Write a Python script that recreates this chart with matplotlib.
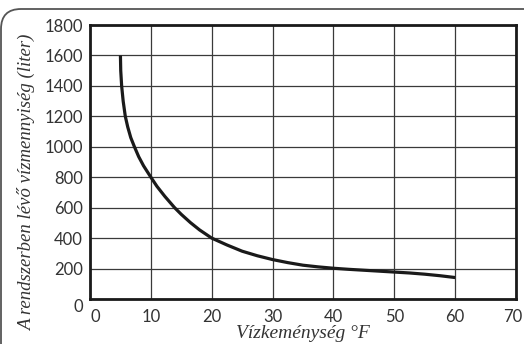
import matplotlib
matplotlib.use('Agg')
import matplotlib.pyplot as plt
from matplotlib.patches import FancyBboxPatch
from matplotlib.transforms import ScaledTranslation

# Water hardness (°F) vs. system water volume (liter)
hardness = [5.0, 5.05, 5.2, 5.45, 5.8, 6.2, 6.7, 7.3, 8.0, 8.8, 10, 11, 12.3, 13.9, 15,
            16.5, 18, 20, 22.5, 25, 27.5, 30, 32.5, 35, 37.5, 40, 42.5, 45, 47.5, 50, 52.5, 55, 57.5, 60]
volume = [1600, 1500, 1400, 1300, 1200, 1130, 1060, 1000, 935, 875, 800, 740, 674, 600, 556,
          502, 454, 400, 355, 314, 284, 259, 239, 222, 211, 202, 195, 189, 183, 177, 171, 163, 153, 141]

x_ticks = [0, 10, 20, 30, 40, 50, 60, 70]
y_ticks = [0, 200, 400, 600, 800, 1000, 1200, 1400, 1600, 1800]

x_label = 'Vízkeménység °F'
y_label = 'A rendszerben lévő vízmennyiség (liter)'

fig = plt.figure(figsize=(5.24, 3.44), dpi=100)
ax = fig.add_axes([90 / 524, 1 - 299 / 344, 426 / 524, 274 / 344])

ax.plot(hardness, volume, color='#1a1a1a', lw=2.3, solid_capstyle='butt')

ax.set_xlim(0, 70)
ax.set_ylim(0, 1800)
ax.set_xticks(x_ticks)
ax.set_yticks(y_ticks)
ax.grid(True, color='#3a3a3a', lw=0.9)
ax.set_axisbelow(True)
ax.tick_params(length=0, labelsize=12, colors='#333333', pad=5)
ax.tick_params(axis='x', pad=7)
for lbl in ax.get_xticklabels() + ax.get_yticklabels():
    lbl.set_family('Lato')
for s in ax.spines.values():
    s.set_linewidth(2)
    s.set_color('#1a1a1a')

# the end labels sit a little off the gridlines
y0 = ax.get_yticklabels()[0]
y0.set_transform(y0.get_transform() + ScaledTranslation(0, -7 / 100, fig.dpi_scale_trans))
x0 = ax.get_xticklabels()[0]
x0.set_transform(x0.get_transform() + ScaledTranslation(5 / 100, 0, fig.dpi_scale_trans))
x70 = ax.get_xticklabels()[-1]
x70.set_transform(x70.get_transform() + ScaledTranslation(-3 / 100, 0, fig.dpi_scale_trans))

fig.text(303 / 524, 1 - 338 / 344, x_label, family='Liberation Serif', style='italic',
         fontsize=14, color='#333333', ha='center', va='baseline')
fig.text(27 / 524, 1 - 183 / 344, y_label, family='Liberation Serif', style='italic',
         fontsize=13.5, color='#333333', ha='center', va='center', rotation=90)

# rounded frame at the top left
frame = FancyBboxPatch((1, -60), 600, 335 + 60, boxstyle='round,pad=0,rounding_size=20',
                       transform=None, fill=False, edgecolor='#555555', lw=1.3)
fig.add_artist(frame)

fig.savefig('out.png', dpi=100)
